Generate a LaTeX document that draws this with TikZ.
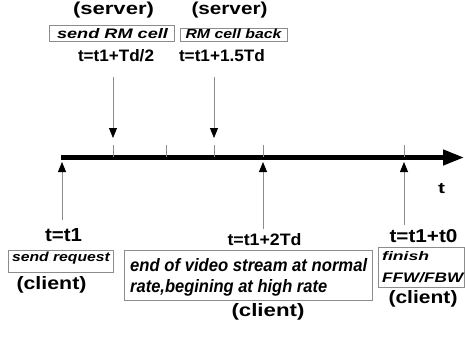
\documentclass[tikz,border=0pt]{standalone}
\usepackage{fontspec}
\usepackage{graphicx}
\setmainfont{Liberation Sans}
\usetikzlibrary{arrows.meta}
\definecolor{lgray}{gray}{0.55}
\newcommand{\fitt}[3]{\resizebox{#1pt}{#2pt}{#3}}
\tikzset{
  lab/.style={inner sep=0pt, anchor=base, font=\fontsize{16}{16}\selectfont\bfseries},
  itl/.style={inner sep=0pt, anchor=base, font=\fontsize{16}{16}\selectfont\bfseries\itshape},
  itlw/.style={inner sep=0pt, anchor=base west, font=\fontsize{16}{16}\selectfont\bfseries\itshape},
  frame/.style={draw=lgray, line width=0.8pt},
  tick/.style={draw=lgray, line width=0.8pt},
  downarr/.style={draw=lgray, line width=0.8pt, -{Triangle[length=10pt,width=8pt,color=black]}},
  axis/.style={line width=4.5pt, -{Triangle[length=21pt,width=15pt]}}
}
\begin{document}
\begin{tikzpicture}[x=1pt,y=-1pt]
\useasboundingbox (0,0) rectangle (465,337);
% axis
\coordinate (axL) at (61,157.5);
\coordinate (axR) at (464,157.5);
\draw[axis] (axL) -- (axR);
\node[lab] (tlab) at (441.5,193) {\fitt{7}{10}{t}};
% ticks
\foreach \x/\n in {113/ta,166/tb,214/tc,263/td,404/te}{
  \coordinate (\n1) at (\x,145);
  \coordinate (\n2) at (\x,157);
  \draw[tick] (\n1) -- (\n2);
}
% server arrows
\coordinate (s1a) at (113,77); \coordinate (s1b) at (113,138);
\coordinate (s2a) at (214,77); \coordinate (s2b) at (214,138);
\draw[downarr] (s1a) -- (s1b);
\draw[downarr] (s2a) -- (s2b);
% client arrows
\coordinate (c1a) at (62,220); \coordinate (c1b) at (62,162);
\coordinate (c2a) at (263,229); \coordinate (c2b) at (263,162);
\coordinate (c3a) at (404,225); \coordinate (c3b) at (404,162);
\draw[downarr] (c1a) -- (c1b);
\draw[downarr] (c2a) -- (c2b);
\draw[downarr] (c3a) -- (c3b);
% top labels
\node[lab] (srvA) at (113.5,14.5) {\fitt{81}{12.5}{(server)}};
\node[lab] (srvB) at (229.5,14.5) {\fitt{76}{12.5}{(server)}};
\draw[frame] (49,25) rectangle (174,41.5);
\node[itl] (sendrm) at (112.5,38) {\fitt{111}{10}{send RM cell}};
\draw[frame] (180,28) rectangle (287,41.5);
\node[itl] (rmback) at (233.5,38.5) {\fitt{96}{9.5}{RM cell back}};
\node[lab] (tA) at (116,62) {\fitt{76}{12}{t=t1+Td/2}};
\node[lab] (tB) at (222,62) {\fitt{86}{12}{t=t1+1.5Td}};
% bottom labels
\node[lab] (t0) at (63.5,241) {\fitt{37}{13}{t=t1}};
\draw[frame] (8,250) rectangle (113,272);
\node[itl] (sendreq) at (61,261.5) {\fitt{98}{9.5}{send request}};
\node[lab] (cliL) at (51.5,289.5) {\fitt{70}{13}{(client)}};
\node[lab] (t2) at (264.5,245) {\fitt{74}{12}{t=t1+2Td}};
\draw[frame] (124,250) rectangle (372,300);
\node[itlw] (eov1) at (130,271) {\fitt{237}{13}{end of video stream at normal}};
\node[itlw] (eov2) at (130,292) {\fitt{197}{13}{rate,begining at high rate}};
\node[lab] (cliM) at (268,316.5) {\fitt{73}{13}{(client)}};
\node[lab] (t3) at (423.5,242) {\fitt{68}{13}{t=t1+t0}};
\draw[frame] (378,247) rectangle (464,287);
\node[itlw] (fin1) at (382,260) {\fitt{47}{9}{finish}};
\node[itlw] (fin2) at (382,282) {\fitt{81}{10}{FFW/FBW}};
\node[lab] (cliR) at (423,303.5) {\fitt{69}{13}{(client)}};
\end{tikzpicture}
\end{document}
